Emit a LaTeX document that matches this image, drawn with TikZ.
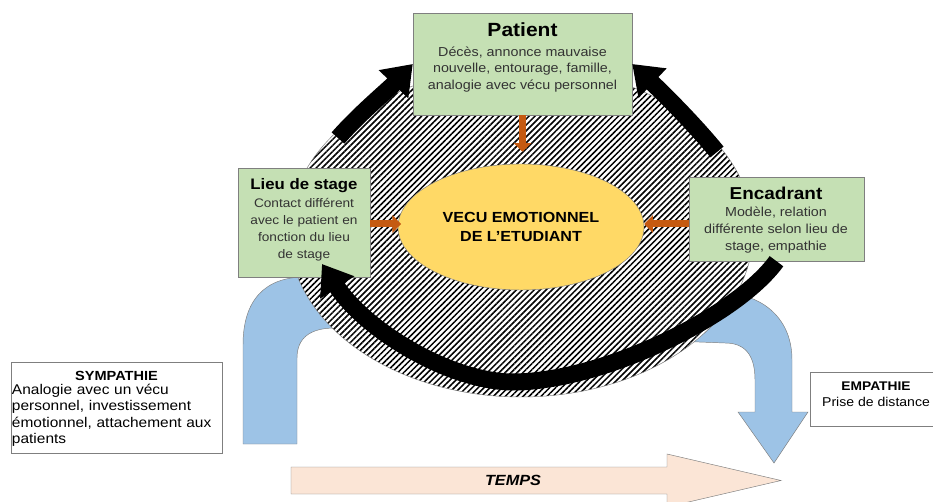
\documentclass[tikz,border=0pt]{standalone}
\usepackage{fontspec}
\setmainfont{Liberation Sans}[FakeStretch=1.1]
\usetikzlibrary{arrows.meta,shapes.geometric,patterns.meta}

\definecolor{boxgreen}{HTML}{C5E0B4}
\definecolor{boxline}{HTML}{7F7F7F}
\definecolor{vecuyellow}{HTML}{FFD966}
\definecolor{uturnblue}{HTML}{9DC3E6}
\definecolor{linkorange}{HTML}{C55A11}
\definecolor{tempspeach}{HTML}{FBE5D6}
\definecolor{bodytext}{HTML}{333333}

\tikzset{
  greenbox/.style={draw=boxline, fill=boxgreen, inner sep=0pt},
  whitebox/.style={draw=boxline, fill=white, inner sep=0pt},
  boxtext/.style={align=center, inner sep=0pt, text=bodytext},
  orangelink/.style={draw=linkorange, line width=2.1mm, -{Triangle[length=2.6mm,width=5.2mm]}},
  blackflow/.style={line width=5.1mm, -{Triangle[length=8.4mm,width=11.7mm]}},
}

\begin{document}
\begin{tikzpicture}[x=0.3mm, y=-0.3mm]
\useasboundingbox (0,0) rectangle (933,502);
\clip (0,0) rectangle (933,502);

% u-turn arrow and time arrow
\draw[boxline, fill=uturnblue] (243,444) -- (243,345) .. controls (243,300) and (265,277) .. (305,277)
      -- (720,292) .. controls (765,294) and (792,320) .. (792,360) -- (792,412) -- (808,412)
      -- (774,463) -- (738,412) -- (755,412) -- (755,380) .. controls (755,355) and (745,343) .. (725,343)
      -- (335,328) .. controls (310,328) and (297,338) .. (297,358) -- (297,444) -- cycle;
\draw[boxline, fill=tempspeach] (291,467) -- (667,467) -- (667,454) -- (781,480.5) -- (667,507)
      -- (667,494) -- (291,494) -- cycle;
\node[font=\fontsize{12.6}{14}\selectfont\bfseries\itshape] (temps) at (513,480.5) {TEMPS};

% hatched ring and the student
\draw[boxline, preaction={fill=white}, pattern={Lines[angle=45,distance=3.6pt,line width=1.3pt]}]
      (521,232) ellipse [x radius=232, y radius=165];
\node[ellipse, draw=boxline, fill=vecuyellow, minimum width=73.8mm, minimum height=37.8mm, inner sep=0pt,
      align=center, font=\fontsize{12.5}{16}\selectfont\bfseries] (vecu) at (521,227)
      {VECU EMOTIONNEL\\DE L'ETUDIANT};
\coordinate (linklevel) at (521,224);

% boxes
\node[greenbox, minimum width=65.7mm, minimum height=30.6mm] (patient) at (522.5,64) {};
\node[boxtext, font=\fontsize{11.1}{14.2}\selectfont] (patienttext) at (522.5,57.5)
      {{\fontsize{16.3}{18}\selectfont\bfseries\color{black}Patient}\\[2.5pt]Décès, annonce mauvaise\\nouvelle, entourage, famille,\\analogie avec vécu personnel};
\node[greenbox, minimum width=39.6mm, minimum height=32.7mm] (lieu) at (304,222.5) {};
\node[boxtext, font=\fontsize{10.6}{14.3}\selectfont] (lieutext) at (304,219.5)
      {{\fontsize{13}{15}\selectfont\bfseries\color{black}Lieu de stage}\\[1.5pt]Contact différent\\avec le patient en\\fonction du lieu\\de stage};
\node[greenbox, minimum width=52.5mm, minimum height=25.2mm] (encadrant) at (776.5,219) {};
\node[boxtext, font=\fontsize{11.1}{14.5}\selectfont] (encadranttext) at (776,220)
      {{\fontsize{14.7}{17}\selectfont\bfseries\color{black}Encadrant}\\Modèle, relation\\différente selon lieu de\\stage, empathie};
\node[whitebox, minimum width=63.3mm, minimum height=27.3mm] (sympathie) at (116.5,407.5) {};
\node[inner sep=0pt, text width=62.7mm, align=left, font=\fontsize{12}{14.1}\selectfont] (sympathietext) at (116.5,409)
      {{\centering\bfseries\fontsize{11.3}{14}\selectfont SYMPATHIE\par}\vspace{-2.4pt}Analogie avec un vécu\\personnel, investissement\\émotionnel, attachement aux\\patients};
\node[whitebox, minimum width=39.6mm, minimum height=16.2mm] (empathie) at (876,399) {};
\node[boxtext, text=black, font=\fontsize{10.9}{13.4}\selectfont] (empathietext) at (876,394)
      {{\bfseries\fontsize{10.7}{13}\selectfont EMPATHIE}\\Prise de distance};

% influences on the student
\draw[orangelink, shorten >=3.6mm] (patient.south) -- (patient.south |- vecu.north);
\draw[orangelink] (lieu.east |- linklevel) -- ([xshift=1mm]vecu.west |- linklevel);
\draw[orangelink] (encadrant.west |- linklevel) -- (vecu.east |- linklevel);

% black flows
\coordinate (lieuflow) at (338,138);
\coordinate (encadrantflow) at (717,152);
\coordinate (returnend) at (322,264);
\draw[blackflow] (lieuflow) .. controls (360,113) and (388,90) .. (patient.west);
\draw[blackflow] (encadrantflow) .. controls (695,125) and (665,95) .. (patient.east);
\draw[blackflow] (encadrant.south) .. controls (735,318) and (600,382) .. (513,382)
      .. controls (450,382) and (365,330) .. (returnend);
\end{tikzpicture}
\end{document}
